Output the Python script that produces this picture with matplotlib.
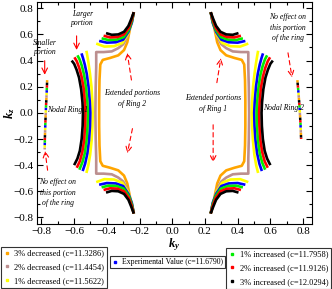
import matplotlib
matplotlib.use("Agg")
import matplotlib.pyplot as plt
from matplotlib.lines import Line2D
from matplotlib.ticker import MultipleLocator

plt.rcParams['font.family'] = ['Liberation Serif', 'DejaVu Serif']
plt.rcParams['mathtext.fontset'] = 'custom'
plt.rcParams['mathtext.rm'] = 'Liberation Serif:bold'
plt.rcParams['mathtext.it'] = 'Liberation Serif:bold:italic'
plt.rcParams['mathtext.bf'] = 'Liberation Serif:bold'

# series: label and colour, in legend order
labels = ['3% decreased (c=11.3286)', '2% decreased (c=11.4454)', '1% decreased (c=11.5622)',
          'Experimental Value (c=11.6790)',
          '1% increased (c=11.7958)', '2% increased (c=11.9126)', '3% increased (c=12.0294)']
colors = ['#FFA500', '#BC8F8F', '#FFFF00', '#0000FF', '#00EE00', '#FF0000', '#000000']

# ---- left side: Nodal Ring 1 and extended portions of Ring 2 (ky, kz) ----
orange_left = [(-0.235, 0.77), (-0.25, 0.70), (-0.262, 0.62), (-0.275, 0.54), (-0.295, 0.48),
               (-0.33, 0.44), (-0.38, 0.42), (-0.425, 0.405), (-0.44, 0.37), (-0.445, 0.25),
               (-0.447, 0.10), (-0.447, -0.10), (-0.445, -0.25), (-0.44, -0.37), (-0.425, -0.405),
               (-0.38, -0.42), (-0.33, -0.44), (-0.295, -0.48), (-0.275, -0.54), (-0.262, -0.62),
               (-0.25, -0.70), (-0.235, -0.77)]
brown_left = [(-0.235, 0.77), (-0.248, 0.71), (-0.262, 0.64), (-0.28, 0.57), (-0.30, 0.525),
              (-0.33, 0.495), (-0.37, 0.47), (-0.42, 0.465), (-0.465, 0.465), (-0.465, 0.35),
              (-0.468, 0.20), (-0.47, 0.0), (-0.468, -0.20), (-0.465, -0.35), (-0.465, -0.465),
              (-0.42, -0.465), (-0.37, -0.47), (-0.33, -0.495), (-0.30, -0.525), (-0.28, -0.57),
              (-0.262, -0.64), (-0.248, -0.71), (-0.235, -0.77)]

yellow_ring1 = [(-0.525, 0.475), (-0.520, 0.44), (-0.512, 0.38), (-0.503, 0.30), (-0.494, 0.20),
                (-0.488, 0.08), (-0.486, 0.0), (-0.488, -0.10), (-0.493, -0.21), (-0.502, -0.32),
                (-0.513, -0.40), (-0.525, -0.46)]
blue_ring1 = [(-0.555, 0.455), (-0.546, 0.42), (-0.535, 0.37), (-0.523, 0.30), (-0.512, 0.20),
              (-0.504, 0.08), (-0.501, 0.0), (-0.503, -0.10), (-0.509, -0.21), (-0.519, -0.31),
              (-0.533, -0.39), (-0.548, -0.445)]
green_ring1 = [(-0.580, 0.44), (-0.567, 0.41), (-0.553, 0.36), (-0.539, 0.29), (-0.527, 0.19),
               (-0.519, 0.08), (-0.516, 0.0), (-0.518, -0.10), (-0.524, -0.21), (-0.535, -0.31),
               (-0.550, -0.38), (-0.568, -0.435)]
red_ring1 = [(-0.598, 0.425), (-0.584, 0.395), (-0.569, 0.345), (-0.555, 0.28), (-0.542, 0.19),
             (-0.534, 0.08), (-0.531, 0.0), (-0.533, -0.10), (-0.539, -0.21), (-0.550, -0.30),
             (-0.565, -0.37), (-0.584, -0.42)]
black_ring1 = [(-0.615, 0.40), (-0.600, 0.375), (-0.585, 0.33), (-0.570, 0.27), (-0.557, 0.18),
               (-0.549, 0.08), (-0.546, 0.0), (-0.548, -0.10), (-0.554, -0.20), (-0.565, -0.29),
               (-0.580, -0.35), (-0.600, -0.40)]

yellow_ext2_top = [(-0.465, 0.53), (-0.415, 0.507), (-0.355, 0.51), (-0.305, 0.535), (-0.272, 0.60), (-0.25, 0.68), (-0.235, 0.77)]
blue_ext2_top = [(-0.447, 0.55), (-0.40, 0.537), (-0.345, 0.54), (-0.300, 0.56), (-0.268, 0.62), (-0.247, 0.69), (-0.235, 0.77)]
green_ext2_top = [(-0.432, 0.57), (-0.39, 0.557), (-0.34, 0.56), (-0.297, 0.58), (-0.266, 0.635), (-0.247, 0.70), (-0.235, 0.77)]
red_ext2_top = [(-0.42, 0.59), (-0.38, 0.577), (-0.335, 0.58), (-0.295, 0.60), (-0.266, 0.65), (-0.248, 0.71), (-0.235, 0.77)]
black_ext2_top = [(-0.405, 0.61), (-0.37, 0.597), (-0.33, 0.60), (-0.295, 0.62), (-0.268, 0.665), (-0.25, 0.72), (-0.235, 0.77)]

yellow_ext2_bot = [(-0.465, -0.53), (-0.415, -0.507), (-0.355, -0.51), (-0.305, -0.535), (-0.272, -0.60), (-0.25, -0.68), (-0.235, -0.77)]
blue_ext2_bot = [(-0.447, -0.55), (-0.40, -0.537), (-0.345, -0.54), (-0.300, -0.56), (-0.268, -0.62), (-0.247, -0.69), (-0.235, -0.77)]
green_ext2_bot = [(-0.432, -0.57), (-0.39, -0.557), (-0.34, -0.56), (-0.297, -0.58), (-0.266, -0.635), (-0.247, -0.70), (-0.235, -0.77)]
red_ext2_bot = [(-0.42, -0.59), (-0.38, -0.577), (-0.335, -0.58), (-0.295, -0.60), (-0.266, -0.65), (-0.248, -0.71), (-0.235, -0.77)]
black_ext2_bot = [(-0.405, -0.61), (-0.37, -0.597), (-0.33, -0.60), (-0.295, -0.62), (-0.268, -0.665), (-0.25, -0.72), (-0.235, -0.77)]

# ---- right side: Nodal Ring 2 and extended portions of Ring 1 ----
orange_right = [(0.235, 0.77), (0.25, 0.70), (0.262, 0.62), (0.275, 0.54), (0.295, 0.48),
                (0.33, 0.44), (0.38, 0.42), (0.425, 0.405), (0.44, 0.37), (0.445, 0.25),
                (0.447, 0.10), (0.447, -0.10), (0.445, -0.25), (0.44, -0.37), (0.425, -0.405),
                (0.38, -0.42), (0.33, -0.44), (0.295, -0.48), (0.275, -0.54), (0.262, -0.62),
                (0.25, -0.70), (0.235, -0.77)]
brown_right = [(0.235, 0.77), (0.248, 0.71), (0.262, 0.64), (0.28, 0.57), (0.30, 0.525),
               (0.33, 0.495), (0.37, 0.47), (0.42, 0.465), (0.465, 0.465), (0.465, 0.35),
               (0.468, 0.20), (0.47, 0.0), (0.468, -0.20), (0.465, -0.35), (0.465, -0.465),
               (0.42, -0.465), (0.37, -0.47), (0.33, -0.495), (0.30, -0.525), (0.28, -0.57),
               (0.262, -0.64), (0.248, -0.71), (0.235, -0.77)]

yellow_ring2 = [(0.525, 0.475), (0.520, 0.44), (0.512, 0.38), (0.503, 0.30), (0.494, 0.20),
                (0.488, 0.08), (0.486, 0.0), (0.488, -0.10), (0.493, -0.21), (0.502, -0.32),
                (0.513, -0.40), (0.525, -0.46)]
blue_ring2 = [(0.555, 0.455), (0.546, 0.42), (0.535, 0.37), (0.523, 0.30), (0.512, 0.20),
              (0.504, 0.08), (0.501, 0.0), (0.503, -0.10), (0.509, -0.21), (0.519, -0.31),
              (0.533, -0.39), (0.548, -0.445)]
green_ring2 = [(0.580, 0.44), (0.567, 0.41), (0.553, 0.36), (0.539, 0.29), (0.527, 0.19),
               (0.519, 0.08), (0.516, 0.0), (0.518, -0.10), (0.524, -0.21), (0.535, -0.31),
               (0.550, -0.38), (0.568, -0.435)]
red_ring2 = [(0.598, 0.425), (0.584, 0.395), (0.569, 0.345), (0.555, 0.28), (0.542, 0.19),
             (0.534, 0.08), (0.531, 0.0), (0.533, -0.10), (0.539, -0.21), (0.550, -0.30),
             (0.565, -0.37), (0.584, -0.42)]
black_ring2 = [(0.615, 0.40), (0.600, 0.375), (0.585, 0.33), (0.570, 0.27), (0.557, 0.18),
               (0.549, 0.08), (0.546, 0.0), (0.548, -0.10), (0.554, -0.20), (0.565, -0.29),
               (0.580, -0.35), (0.600, -0.40)]

yellow_ext1_top = [(0.465, 0.53), (0.415, 0.507), (0.355, 0.51), (0.305, 0.535), (0.272, 0.60), (0.25, 0.68), (0.235, 0.77)]
blue_ext1_top = [(0.447, 0.55), (0.40, 0.537), (0.345, 0.54), (0.300, 0.56), (0.268, 0.62), (0.247, 0.69), (0.235, 0.77)]
green_ext1_top = [(0.432, 0.57), (0.39, 0.557), (0.34, 0.56), (0.297, 0.58), (0.266, 0.635), (0.247, 0.70), (0.235, 0.77)]
red_ext1_top = [(0.42, 0.59), (0.38, 0.577), (0.335, 0.58), (0.295, 0.60), (0.266, 0.65), (0.248, 0.71), (0.235, 0.77)]
black_ext1_top = [(0.405, 0.61), (0.37, 0.597), (0.33, 0.60), (0.295, 0.62), (0.268, 0.665), (0.25, 0.72), (0.235, 0.77)]

yellow_ext1_bot = [(0.465, -0.53), (0.415, -0.507), (0.355, -0.51), (0.305, -0.535), (0.272, -0.60), (0.25, -0.68), (0.235, -0.77)]
blue_ext1_bot = [(0.447, -0.55), (0.40, -0.537), (0.345, -0.54), (0.300, -0.56), (0.268, -0.62), (0.247, -0.69), (0.235, -0.77)]
green_ext1_bot = [(0.432, -0.57), (0.39, -0.557), (0.34, -0.56), (0.297, -0.58), (0.266, -0.635), (0.247, -0.70), (0.235, -0.77)]
red_ext1_bot = [(0.42, -0.59), (0.38, -0.577), (0.335, -0.58), (0.295, -0.60), (0.266, -0.65), (0.248, -0.71), (0.235, -0.77)]
black_ext1_bot = [(0.405, -0.61), (0.37, -0.597), (0.33, -0.60), (0.295, -0.62), (0.268, -0.665), (0.25, -0.72), (0.235, -0.77)]

# small unaffected portions of the rings (shared by all series)
small_left_ky = [-0.765, -0.768, -0.772, -0.776, -0.779, -0.78]
small_left_kz = [0.25, 0.15, 0.05, -0.08, -0.20, -0.28]
small_right_ky = [0.765, 0.772, 0.778, 0.784, 0.788]
small_right_kz = [0.25, 0.15, 0.05, -0.08, -0.20]

curves = [
    [orange_left, orange_right],
    [brown_left, brown_right],
    [yellow_ring1, yellow_ext2_top, yellow_ext2_bot, yellow_ring2, yellow_ext1_top, yellow_ext1_bot],
    [blue_ring1, blue_ext2_top, blue_ext2_bot, blue_ring2, blue_ext1_top, blue_ext1_bot],
    [green_ring1, green_ext2_top, green_ext2_bot, green_ring2, green_ext1_top, green_ext1_bot],
    [red_ring1, red_ext2_top, red_ext2_bot, red_ring2, red_ext1_top, red_ext1_bot],
    [black_ring1, black_ext2_top, black_ext2_bot, black_ring2, black_ext1_top, black_ext1_bot],
]

fig = plt.figure(figsize=(3.32, 2.89), dpi=100)
ax = fig.add_axes([0.110, 0.225, 0.830, 0.769])

for i, (segs, col) in enumerate(zip(curves, colors)):
    for seg in segs:
        ky = [p[0] for p in seg]
        kz = [p[1] for p in seg]
        ax.plot(ky, kz, color=col, lw=1.9, solid_capstyle='butt')
    ax.plot(small_left_ky, small_left_kz, color=col, lw=1.8, linestyle=(i * 1.0, (1.0, 6.0)))
    ax.plot(small_right_ky, small_right_kz, color=col, lw=1.8, linestyle=(i * 1.0, (1.0, 6.0)))

ax.set_xlim(-0.83, 0.855)
ax.set_ylim(-0.85, 0.85)
ax.xaxis.set_major_locator(MultipleLocator(0.2))
ax.xaxis.set_minor_locator(MultipleLocator(0.1))
ax.yaxis.set_major_locator(MultipleLocator(0.2))
ax.yaxis.set_minor_locator(MultipleLocator(0.1))
ax.tick_params(which='both', direction='in', top=True, right=True, labelsize=8, width=0.8)
ax.tick_params(which='major', length=4, pad=2.5)
ax.tick_params(which='minor', length=2)
for s in ax.spines.values():
    s.set_linewidth(0.8)

ax.set_xlabel(r'$k_y$', fontsize=9, labelpad=0)
ax.set_ylabel(r'$k_z$', fontsize=9)
ax.yaxis.set_label_coords(-0.072, 0.5)

tkw = dict(fontsize=5.5, style='italic', ha='center', va='center')
ax.text(-0.55, 0.72, 'Larger\nportion', **tkw)
ax.text(-0.78, 0.50, 'Smaller\nportion', **tkw)
ax.text(-0.765, 0.02, 'Nodal Ring 1', fontsize=5.5, style='italic', ha='left', va='center')
ax.text(-0.245, 0.11, 'Extended portions\nof Ring 2', linespacing=1.5, **tkw)
ax.text(-0.70, -0.61, 'No effect on\nthis portion\nof the ring', linespacing=1.4, **tkw)
ax.text(0.705, 0.65, 'No effect on\nthis portion\nof the ring', linespacing=1.4, **tkw)
ax.text(0.25, 0.07, 'Extended portions\nof Ring 1', linespacing=1.5, **tkw)
ax.text(0.555, 0.035, 'Nodal Ring 2', fontsize=5.5, style='italic', ha='left', va='center')

solid = dict(arrowstyle='->', color='red', lw=0.8)
dashed = dict(arrowstyle='->', color='red', lw=0.8, linestyle=(0, (4, 3)))
ax.annotate('', xy=(-0.585, 0.46), xytext=(-0.585, 0.61), arrowprops=solid)
ax.annotate('', xy=(-0.78, 0.27), xytext=(-0.78, 0.42), arrowprops=solid)
ax.annotate('', xy=(-0.278, 0.48), xytext=(-0.247, 0.23), arrowprops=dashed)
ax.annotate('', xy=(-0.278, -0.33), xytext=(-0.24, -0.10), arrowprops=dashed)
ax.annotate('', xy=(-0.78, -0.27), xytext=(-0.76, -0.46), arrowprops=dashed)
ax.annotate('', xy=(0.735, 0.25), xytext=(0.705, 0.48), arrowprops=dashed)
ax.annotate('', xy=(0.30, 0.44), xytext=(0.27, 0.21), arrowprops=dashed)
ax.annotate('', xy=(0.25, -0.40), xytext=(0.25, -0.07), arrowprops=dashed)

handles = [Line2D([], [], color=c, marker='s', markersize=1.5, linestyle='none') for c in colors]
lkw = dict(frameon=True, fancybox=False, edgecolor='black', handlelength=0.8,
           handletextpad=0.5, borderaxespad=0)
leg1 = fig.legend(handles[:3], labels[:3], loc='lower left', bbox_to_anchor=(0.002, 0.003),
                  fontsize=6.0, borderpad=0.35, labelspacing=0.7, **lkw)
leg2 = fig.legend(handles[3:4], labels[3:4], loc='lower left', bbox_to_anchor=(0.331, 0.072),
                  fontsize=5.6, borderpad=0.25, **lkw)
leg3 = fig.legend(handles[4:], labels[4:], loc='lower right', bbox_to_anchor=(0.998, 0.0),
                  fontsize=6.0, borderpad=0.35, labelspacing=0.7, **lkw)
for leg in (leg1, leg2, leg3):
    leg.get_frame().set_linewidth(0.8)

fig.savefig('out.png', dpi=100)
